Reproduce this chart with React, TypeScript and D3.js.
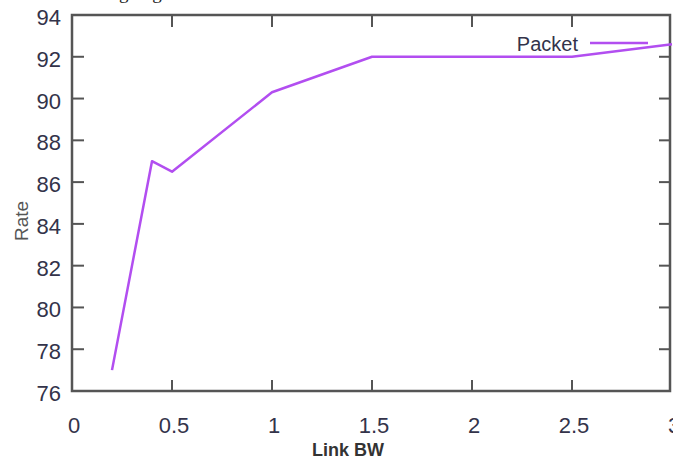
import React, { useRef, useEffect } from 'react';
import * as d3 from 'd3';

const linkBW = [0.2, 0.4, 0.5, 1, 1.5, 2.5, 3];
const packetRate = [77, 87, 86.5, 90.3, 92, 92, 92.6];
const xTicks = [0, 0.5, 1, 1.5, 2, 2.5, 3];
const yTicks = [76, 78, 80, 82, 84, 86, 88, 90, 92, 94];

const LineChart = () => {
  const svgRef = useRef<SVGSVGElement>(null);

  useEffect(() => {
    const svg = d3.select(svgRef.current);
    const height = 459;
    const margin = { top: 15, right: 3, bottom: 68, left: 72 };
    const innerWidth = 672 - margin.left;
    const innerHeight = height - margin.top - margin.bottom;

    svg.selectAll('*').remove();

    const font = "'Liberation Sans', Arial, sans-serif";
    const axisColor = '#555';

    // clipped caption from the page above the figure
    svg.append('text')
      .attr('x', -6)
      .attr('y', -1)
      .style('font-family', "'Liberation Serif', serif")
      .style('font-size', '19px')
      .style('fill', '#222')
      .text('esented in the Fig. 4 given below.');

    const g = svg.append('g')
      .attr('transform', `translate(${margin.left},${margin.top})`);

    const xScale = d3.scaleLinear().domain([0, 3]).range([0, innerWidth]);
    const yScale = d3.scaleLinear().domain([76, 94]).range([innerHeight, 0]);

    const frameRight = 670 - margin.left;

    // ticks (gnuplot style, inward on all four sides)
    xTicks.forEach(t => {
      const x = xScale(t);
      if (x > frameRight) return;
      g.append('line').attr('x1', x).attr('x2', x).attr('y1', innerHeight).attr('y2', innerHeight - 11)
        .attr('stroke', axisColor).attr('stroke-width', 2);
      g.append('line').attr('x1', x).attr('x2', x).attr('y1', 0).attr('y2', 12)
        .attr('stroke', axisColor).attr('stroke-width', 2);
    });
    yTicks.forEach(t => {
      const y = yScale(t);
      g.append('line').attr('x1', 0).attr('x2', 12).attr('y1', y).attr('y2', y)
        .attr('stroke', axisColor).attr('stroke-width', 2);
      g.append('line').attr('x1', frameRight).attr('x2', frameRight - 11).attr('y1', y).attr('y2', y)
        .attr('stroke', axisColor).attr('stroke-width', 2);
    });

    g.append('rect')
      .attr('x', 0).attr('y', 0)
      .attr('width', frameRight).attr('height', innerHeight)
      .attr('fill', 'none')
      .attr('stroke', axisColor)
      .attr('stroke-width', 2.5);

    // tick labels
    g.selectAll('.xlabel')
      .data(xTicks)
      .enter()
      .append('text')
      .attr('x', d => xScale(d) + 2)
      .attr('y', innerHeight + 42)
      .attr('text-anchor', 'middle')
      .style('font-family', font)
      .style('font-size', '22px')
      .style('fill', '#33334a')
      .text(d => d);

    g.selectAll('.ylabel')
      .data(yTicks)
      .enter()
      .append('text')
      .attr('x', -11)
      .attr('y', d => yScale(d) + 10)
      .attr('text-anchor', 'end')
      .style('font-family', font)
      .style('font-size', '22px')
      .style('fill', '#33334a')
      .text(d => d);

    const line = d3.line<number>()
      .x((d, i) => xScale(linkBW[i]))
      .y(d => yScale(d));

    g.append('path')
      .attr('d', line(packetRate))
      .attr('stroke', '#b24ef0')
      .attr('stroke-width', 2.5)
      .attr('stroke-linejoin', 'round')
      .attr('fill', 'none');

    // legend
    svg.append('text')
      .attr('x', 578)
      .attr('y', 51)
      .attr('text-anchor', 'end')
      .style('font-family', font)
      .style('font-size', '20px')
      .style('fill', '#33334a')
      .text('Packet');
    svg.append('line')
      .attr('x1', 590).attr('x2', 648)
      .attr('y1', 43).attr('y2', 43)
      .attr('stroke', '#b24ef0')
      .attr('stroke-width', 2.5);

    // axis titles
    svg.append('text')
      .attr('x', 348)
      .attr('y', 456)
      .attr('text-anchor', 'middle')
      .style('font-family', font)
      .style('font-size', '18px')
      .style('font-weight', 'bold')
      .style('fill', '#333')
      .text('Link BW');

    svg.append('text')
      .attr('transform', `translate(28,${221}) rotate(-90)`)
      .attr('text-anchor', 'middle')
      .style('font-family', font)
      .style('font-size', '19px')
      .style('fill', '#555')
      .text('Rate');
  }, []);

  return (
    <svg
      ref={svgRef}
      width={673}
      height={459}
      viewBox="0 0 673 459"
      style={{ position: 'absolute', left: 0, top: 0, background: 'white', display: 'block' }}
    ></svg>
  );
};

export default function App() {
  return <LineChart />;
}
